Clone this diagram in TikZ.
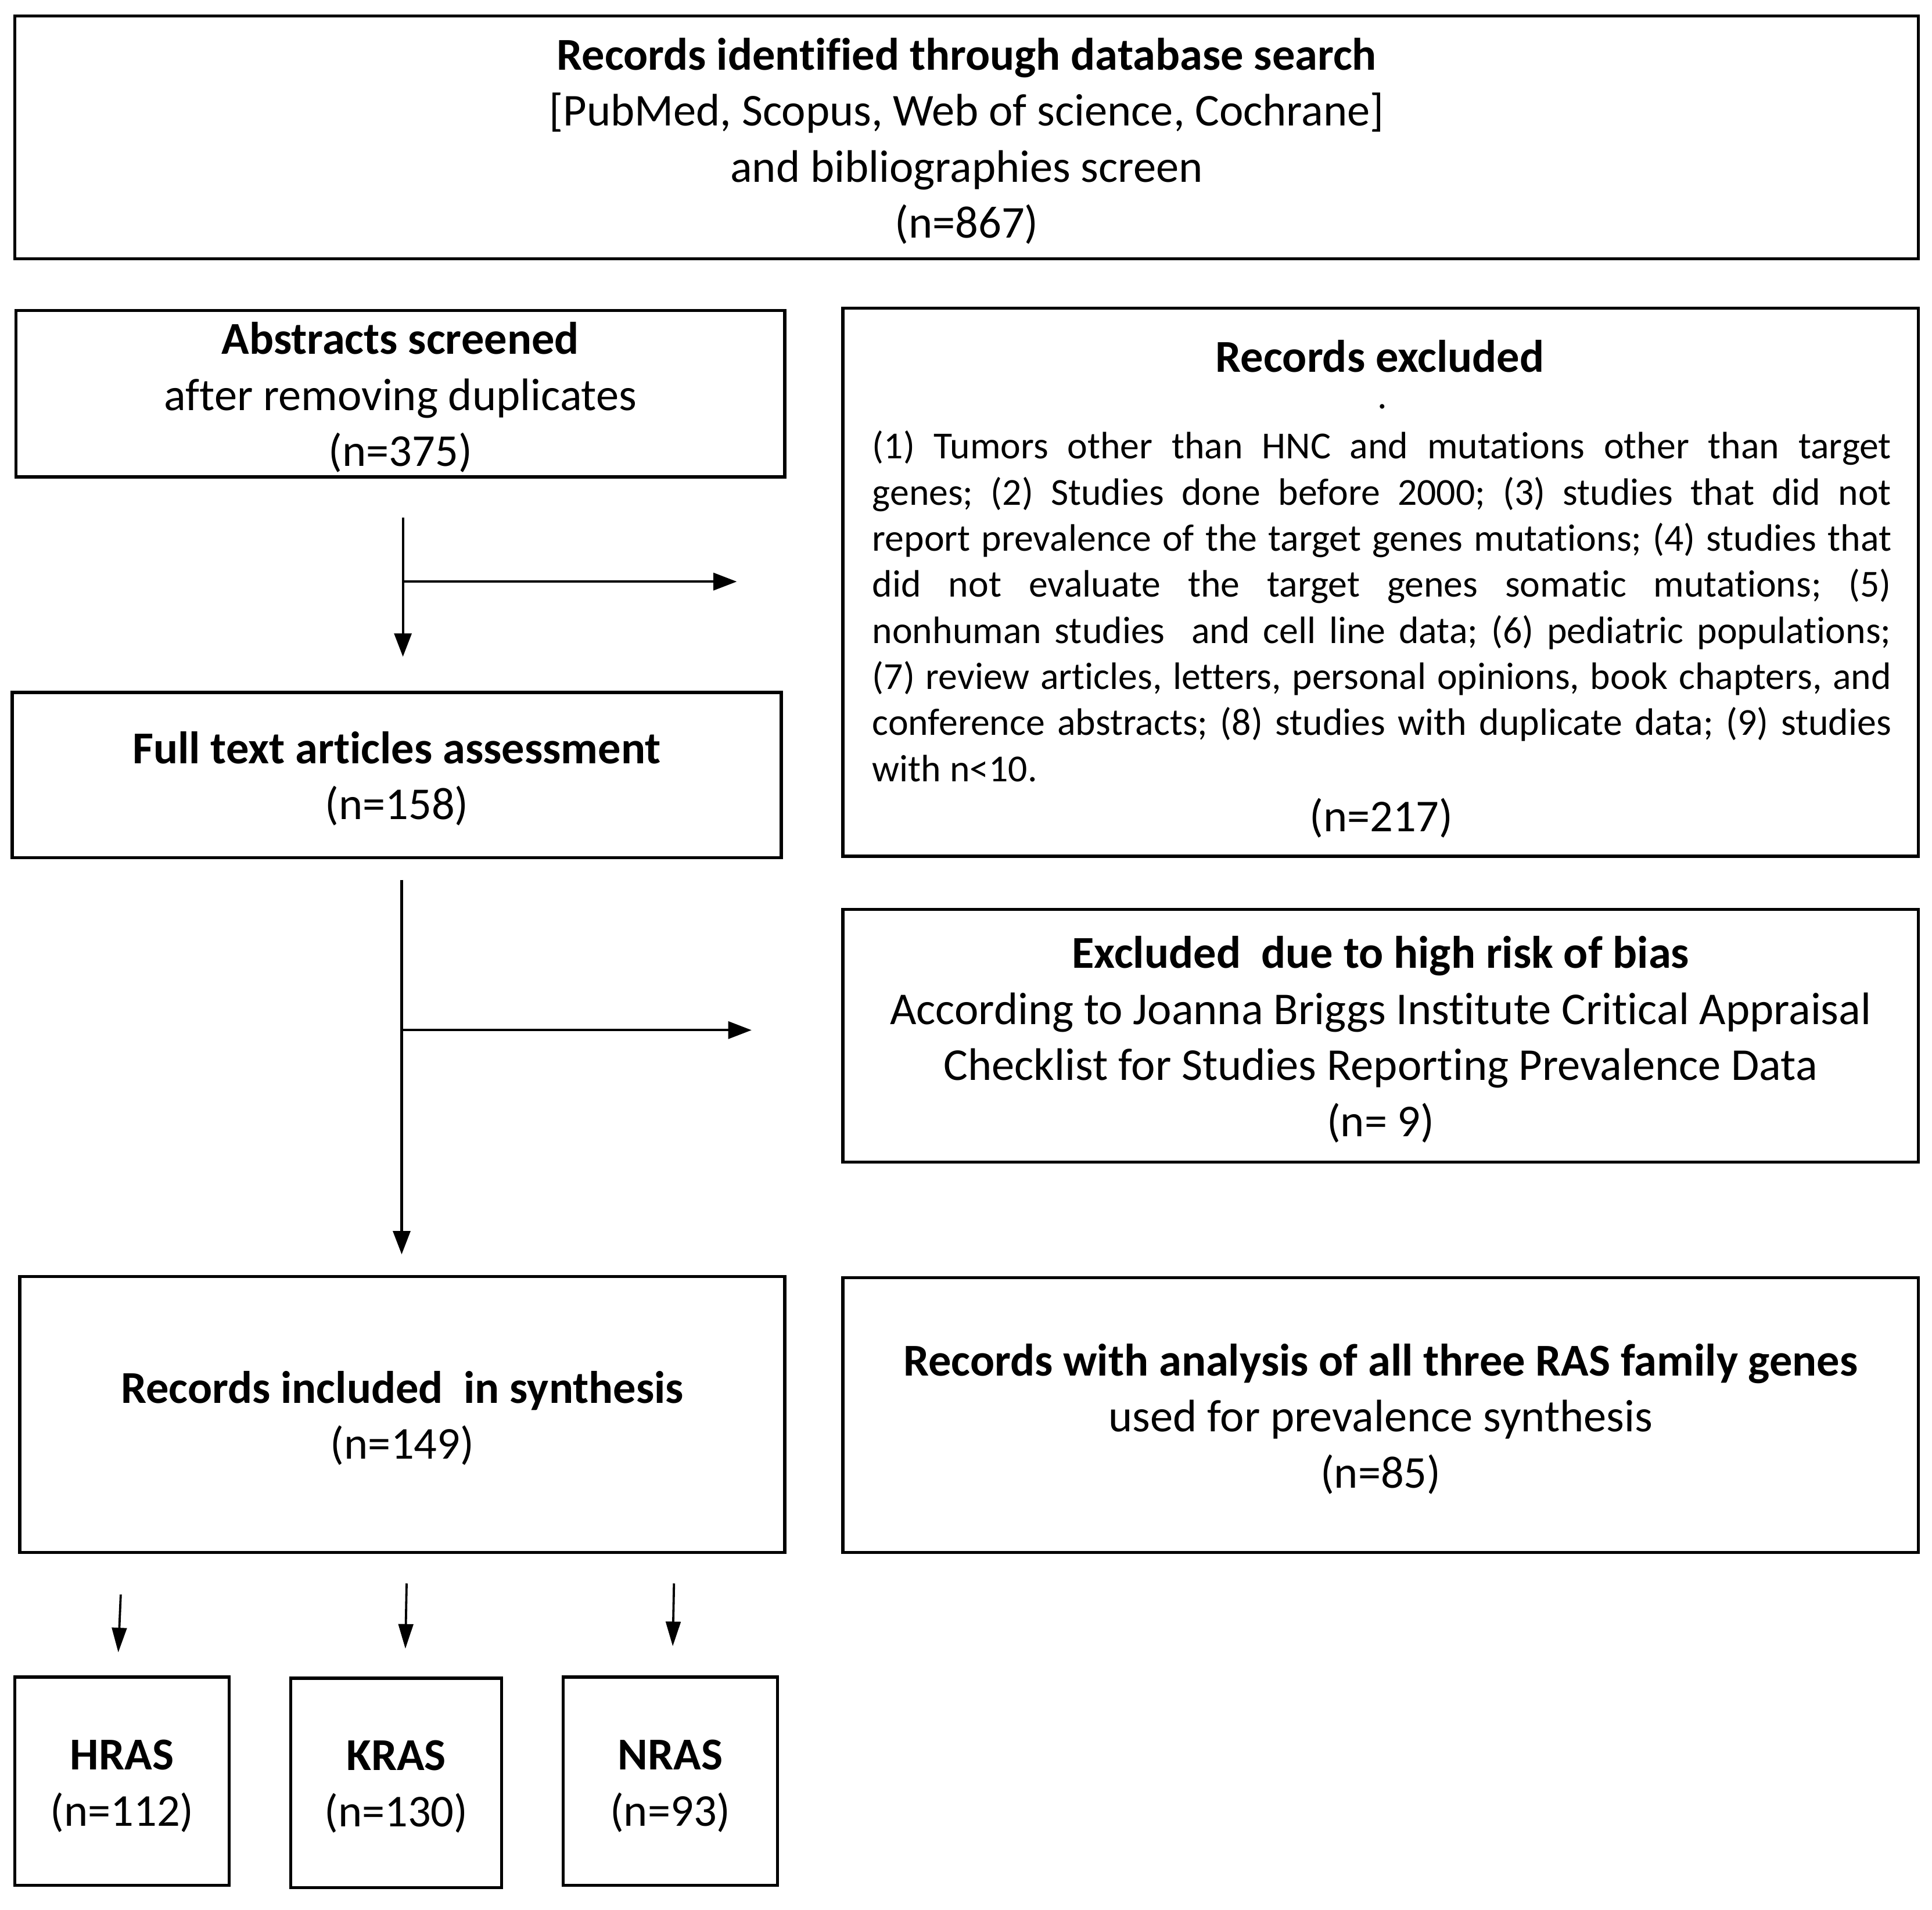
\documentclass[tikz,border=0pt]{standalone}
\usepackage{fontspec}
\setmainfont{Carlito}[Ligatures=NoCommon]
\usetikzlibrary{arrows.meta}
\begin{document}
\begin{tikzpicture}[x=1pt,y=-1pt,
  box/.style={draw, line width=2.6pt, inner sep=0pt},
  txt/.style={inner sep=0pt, align=center, font=\fontsize{37}{45.5}\selectfont},
  para/.style={inner sep=0pt, align=left, font=\fontsize{31}{37.4}\selectfont\frenchspacing},
  arr/.style={line width=2pt, -{Triangle[length=19pt,width=14pt]}},
  sarr/.style={line width=1.8pt, -{Triangle[length=20pt,width=12pt]}}]
\useasboundingbox (0,0) rectangle (1568,1550);

\node[box, minimum width=1545pt, minimum height=197pt] (top) at (784.5,111.5) {};
\node[txt] (topt) at ([yshift=-3pt]top.center)
  {\textbf{Records identified through database search}\\{[PubMed, Scopus, Web of science, Cochrane]}\\and bibliographies screen\\(n=867)};

\node[box, minimum width=624pt, minimum height=135pt] (abs) at (325,319.5) {};
\node[txt] (abst) at ([yshift=-3pt]abs.center)
  {\textbf{Abstracts screened}\\after removing duplicates\\(n=375)};

\node[box, minimum width=873pt, minimum height=445pt] (excl) at (1120.5,472.5) {};
\node[txt, font=\fontsize{37}{45.5}\selectfont\bfseries] (exclt) at (1120,289) {Records excluded};
\node[txt, font=\fontsize{31}{37.4}\selectfont] (excld) at (1122,330) {.};
\node[para] (exclp) at (1121.5,492) {%
\makebox[827pt][s]{(1) Tumors other than HNC and mutations other than target}\\
\makebox[827pt][s]{genes; (2) Studies done before 2000; (3) studies that did not}\\
\makebox[827pt][s]{report prevalence of the target genes mutations; (4) studies that}\\
\makebox[827pt][s]{did not evaluate the target genes somatic mutations; (5)}\\
\makebox[827pt][s]{nonhuman studies\ \ and cell line data; (6) pediatric populations;}\\
\makebox[827pt][s]{(7) review articles, letters, personal opinions, book chapters, and}\\
\makebox[827pt][s]{conference abstracts; (8) studies with duplicate data; (9) studies}\\
\makebox[827pt][l]{with n<10.}};
\node[txt] (excln) at (1121,664) {(n=217)};

\node[box, minimum width=624pt, minimum height=134pt] (full) at (322,629) {};
\node[txt] (fullt) at ([yshift=-3pt]full.center)
  {\textbf{Full text articles assessment}\\(n=158)};

\node[box, minimum width=873pt, minimum height=205pt] (bias) at (1120.5,840.5) {};
\node[txt] (biast) at ([yshift=-3pt]bias.center)
  {\textbf{Excluded\ \ due to high risk of bias}\\According to Joanna Briggs Institute Critical Appraisal\\Checklist for Studies Reporting Prevalence Data\\(n= 9)};

\node[box, minimum width=621pt, minimum height=224pt] (incl) at (326.5,1148) {};
\node[txt] (inclt) at ([yshift=-3pt]incl.center)
  {\textbf{Records included\ \ in synthesis}\\(n=149)};

\node[box, minimum width=873pt, minimum height=223pt] (anal) at (1120.5,1148.5) {};
\node[txt] (analt) at ([yshift=-3pt]anal.center)
  {\textbf{Records with analysis of all three RAS family genes}\\used for prevalence synthesis\\(n=85)};

\node[box, minimum width=174pt, minimum height=169pt] (hras) at (99,1445.5) {};
\node[txt] (hrast) at ([yshift=-4pt]hras.center) {\textbf{HRAS}\\(n=112)};
\node[box, minimum width=171pt, minimum height=170pt] (kras) at (321.5,1447) {};
\node[txt] (krast) at ([yshift=-3pt]kras.center) {\textbf{KRAS}\\(n=130)};
\node[box, minimum width=174pt, minimum height=169pt] (nras) at (544,1445.5) {};
\node[txt] (nrast) at ([yshift=-4pt]nras.center) {\textbf{NRAS}\\(n=93)};

% connectors
\coordinate (a1s) at (327,420);
\coordinate (a1e) at (327,533);
\coordinate (b1s) at (327,472);
\coordinate (b1e) at (598,472);
\coordinate (a2s) at (326,714);
\coordinate (a2e) at (326,1018);
\coordinate (b2s) at (326,836);
\coordinate (b2e) at (610,836);
\coordinate (h1s) at (98,1294);
\coordinate (h1e) at (96,1341);
\coordinate (k1s) at (330,1285);
\coordinate (k1e) at (329,1338);
\coordinate (n1s) at (547,1285);
\coordinate (n1e) at (546,1336);

\draw[arr] (a1s) -- (a1e);
\draw[arr] (b1s) -- (b1e);
\draw[arr] (a2s) -- (a2e);
\draw[arr] (b2s) -- (b2e);
\draw[sarr] (h1s) -- (h1e);
\draw[sarr] (k1s) -- (k1e);
\draw[sarr] (n1s) -- (n1e);
\end{tikzpicture}
\end{document}
